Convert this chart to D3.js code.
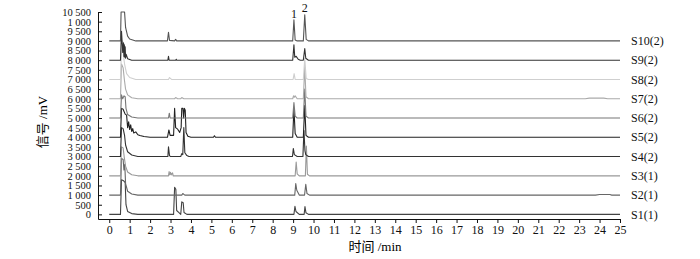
<!DOCTYPE html>
<html>
<head>
<meta charset="utf-8">
<script src="https://cdn.jsdelivr.net/npm/d3@7"></script>
<style>
  html, body { margin: 0; padding: 0; background: #fff; }
  svg { display: block; }
  .ax text { font-family: "Liberation Serif", "Times New Roman", serif; fill: #111; }
  .ax path, .ax line { stroke: #111; stroke-width: 1; }
  .trace { fill: none; stroke-width: 1.1; stroke-linejoin: round; }
</style>
</head>
<body>
<svg id="chart" width="700" height="259"></svg>
<script>
// ── Données ──────────────────────────────────────────────────────────────
// temps en min, signal en mV au-dessus de la ligne de base de chaque échantillon
const sampleNames = ['S1(1)', 'S2(1)', 'S3(1)', 'S4(2)', 'S5(2)', 'S6(2)', 'S7(2)', 'S8(2)', 'S9(2)', 'S10(2)'];
const baselines   = [0, 1000, 2000, 3000, 4000, 5000, 6000, 7000, 8000, 9000];

const s1 = [[0,0],[0.55,0],[0.6,1800],[0.7,1750],[0.78,1650],[0.82,500],[0.9,150],[1.1,40],[1.4,0],
  [3.15,0],[3.2,1400],[3.26,1300],[3.3,200],[3.4,100],[3.5,0],[3.55,650],[3.62,600],[3.66,100],[3.8,0],
  [9.04,0],[9.09,420],[9.14,150],[9.3,0],[9.54,0],[9.58,400],[9.63,80],[9.75,0],[25,0]];
const s2 = [[0,0],[0.55,0],[0.6,1900],[0.68,1850],[0.72,1300],[0.76,1600],[0.8,600],[0.9,200],[1.1,60],[1.4,0],
  [3.55,0],[3.6,80],[3.7,0],
  [9.08,0],[9.13,600],[9.18,250],[9.3,0],[9.56,0],[9.62,560],[9.68,80],[9.8,0],
  [23.8,0],[24,30],[24.5,30],[24.6,0],[25,0]];
const s3 = [[0,0],[0.55,0],[0.6,1500],[0.68,1450],[0.73,1000],[0.8,500],[0.9,200],[1.1,60],[1.4,0],
  [2.9,0],[2.93,220],[2.96,50],[3.0,180],[3.03,50],[3.1,150],[3.13,0],
  [9.1,0],[9.15,720],[9.2,100],[9.3,0],[9.6,0],[9.65,1550],[9.7,80],[9.8,0],[25,0]];
const s4 = [[0,0],[0.55,0],[0.6,1500],[0.68,1450],[0.75,1100],[0.8,600],[0.9,250],[1.1,80],[1.4,0],
  [2.87,0],[2.9,500],[2.95,50],[3.0,0],[3.5,0],[3.55,150],[3.6,100],[3.65,1500],[3.7,200],[3.8,50],[3.9,0],
  [8.97,0],[9.01,420],[9.06,100],[9.2,0],[9.48,0],[9.53,1350],[9.58,300],[9.62,100],[9.75,0],[25,0]];
const s5 = [[0,0],[0.55,0],[0.6,1500],[0.68,1450],[0.72,1350],[0.78,1200],[0.85,1150],[0.9,500],[0.95,800],
  [1.0,400],[1.05,650],[1.1,300],[1.15,450],[1.2,220],[1.3,280],[1.4,130],[1.5,90],[1.7,40],[2.0,0],
  [2.85,0],[2.92,380],[2.98,100],[3.15,100],[3.2,1500],[3.25,500],[3.35,420],[3.45,250],[3.52,500],
  [3.55,1500],[3.61,1500],[3.64,1000],[3.68,1500],[3.72,1400],[3.76,250],[3.85,50],[4.0,0],
  [5.1,0],[5.15,80],[5.2,0],
  [8.98,0],[9.04,1500],[9.1,200],[9.2,0],[9.5,0],[9.57,1650],[9.63,100],[9.75,0],[25,0]];
const s6 = [[0,0],[0.55,0],[0.6,1200],[0.66,1000],[0.72,1150],[0.78,1100],[0.82,500],[0.9,180],[1.1,50],[1.4,0],
  [2.9,0],[2.94,250],[2.98,0],
  [8.98,0],[9.04,800],[9.1,100],[9.2,0],[9.5,0],[9.57,1500],[9.63,100],[9.75,0],[25,0]];
const s7 = [[0,0],[0.55,0],[0.6,1800],[0.68,1600],[0.74,1000],[0.8,500],[0.9,200],[1.1,50],[1.4,0],
  [3.2,0],[3.25,60],[3.35,0],[3.5,0],[3.55,60],[3.65,0],
  [8.98,0],[9.02,150],[9.06,80],[9.1,150],[9.2,0],[9.5,0],[9.57,1650],[9.63,100],[9.75,0],
  [23.3,0],[23.5,30],[24.2,30],[24.4,0],[25,0]];
const s8 = [[0,0],[0.55,0],[0.6,1500],[0.66,2000],[0.7,1200],[0.75,800],[0.85,300],[1.0,100],[1.3,0],
  [2.9,0],[2.95,100],[3.05,0],
  [9.0,0],[9.05,300],[9.1,0],[9.5,0],[9.57,1100],[9.64,50],[9.75,0],[25,0]];
const s9 = [[0,0],[0.55,0],[0.6,1500],[0.66,400],[0.7,900],[0.72,200],[0.74,800],[0.76,150],[0.78,700],
  [0.8,100],[0.83,300],[0.9,80],[1.1,0],
  [2.87,0],[2.9,200],[2.93,0],[3.25,0],[3.28,50],[3.3,0],
  [8.98,0],[9.04,800],[9.08,150],[9.15,200],[9.25,50],[9.35,0],[9.5,0],[9.57,600],[9.62,100],[9.75,0],[25,0]];
const s10 = [[0,0],[0.55,0],[0.58,1500],[0.75,1500],[0.8,700],[0.9,250],[1.0,100],[1.3,0],
  [2.85,0],[2.9,450],[2.95,30],[3.2,0],[3.25,80],[3.3,0],
  [8.98,0],[9.04,1100],[9.1,50],[9.2,0],[9.5,0],[9.57,1350],[9.64,80],[9.75,0],[25,0]];

const traces = [s1, s2, s3, s4, s5, s6, s7, s8, s9, s10];
const traceColors = ['#444', '#666', '#999', '#333', '#222', '#777', '#aaa', '#cfcfcf', '#333', '#555'];

const xTicks = [0,1,2,3,4,5,6,7,8,9,10,11,12,13,14,15,16,17,18,19,20,21,22,23,24,25];
const yTicks = [0,500,1000,1500,2000,2500,3000,3500,4000,4500,5000,5500,6000,6500,7000,7500,8000,8500,9000,9500,10000,10500];
const yTickLabels = ['0','500','1 000','1 500','2 000','2 500','3 000','3 500','4 000','4 500','5 000','5 500',
  '6 000','6 500','7 000','7 500','8 000','8 500','9 000','9 500','1 000','10 500'];

const peakLabels = [{ t: 9.04, text: '1' }, { t: 9.57, text: '2' }];

// ── Échelles ─────────────────────────────────────────────────────────────
const x = d3.scaleLinear().domain([-0.55, 25]).range([98, 620]);
const y = d3.scaleLinear().domain([-240, 10500]).range([219, 12]);

const svg = d3.select('#chart');

// ── Courbes ──────────────────────────────────────────────────────────────
const root = svg.append('g');
traces.forEach((pts, i) => {
  const base = baselines[i];
  const line = d3.line().x(d => x(d[0])).y(d => y(base + d[1]));
  root.append('path')
    .attr('class', 'trace')
    .attr('d', line(pts))
    .attr('stroke', traceColors[i]);
});

// ── Axes ─────────────────────────────────────────────────────────────────
svg.append('g')
  .attr('class', 'ax')
  .attr('transform', 'translate(98,0)')
  .call(d3.axisLeft(y).tickValues(yTicks).tickFormat((d, i) => yTickLabels[i])
    .tickSizeInner(-4).tickSizeOuter(0).tickPadding(7))
  .call(g => g.selectAll('text').style('font-size', '10.5px'));

svg.append('g')
  .attr('class', 'ax')
  .attr('transform', 'translate(0,219)')
  .call(d3.axisBottom(x).tickValues(xTicks).tickSizeInner(4).tickSizeOuter(0).tickPadding(2))
  .call(g => g.selectAll('text').style('font-size', '12px'));

// Titres
svg.append('text')
  .attr('transform', 'translate(47,122) rotate(-90)')
  .attr('text-anchor', 'middle')
  .style('font-family', '"Liberation Serif", "Noto Sans CJK SC", serif')
  .style('font-size', '13px')
  .text('信号 /mV');

svg.append('text')
  .attr('x', 375).attr('y', 251)
  .attr('text-anchor', 'middle')
  .style('font-family', '"Liberation Serif", "Noto Sans CJK SC", serif')
  .style('font-size', '13px')
  .text('时间 /min');

// Étiquettes des échantillons
svg.append('g').selectAll('text')
  .data(sampleNames)
  .join('text')
  .attr('x', 631)
  .attr('y', (d, i) => y(baselines[i]))
  .attr('dy', '0.35em')
  .style('font-family', '"Liberation Serif", "Times New Roman", serif')
  .style('font-size', '12px')
  .style('fill', '#111')
  .text(d => d);

// Numéros des pics
svg.append('g').selectAll('text')
  .data(peakLabels)
  .join('text')
  .attr('x', d => x(d.t))
  .attr('y', (d, i) => i === 0 ? 18 : 12)
  .attr('text-anchor', 'middle')
  .style('font-family', '"Liberation Serif", "Times New Roman", serif')
  .style('font-size', '12px')
  .style('fill', '#111')
  .text(d => d.text);
</script>
</body>
</html>
